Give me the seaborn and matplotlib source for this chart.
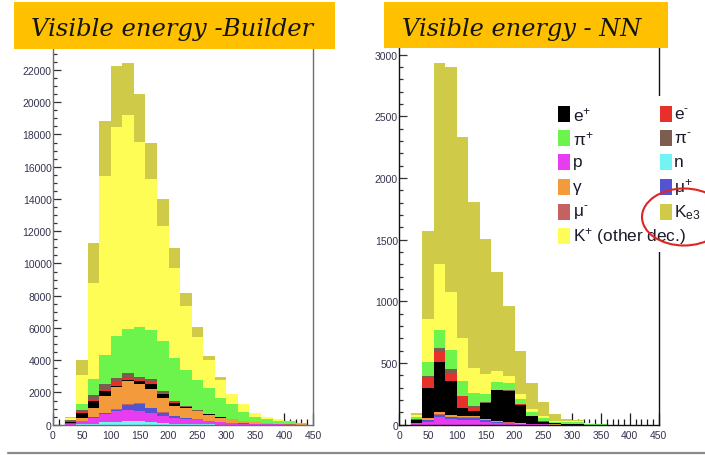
import numpy as np
import pandas as pd
import matplotlib
matplotlib.use("Agg")
import matplotlib.pyplot as plt
from matplotlib.patches import Rectangle, Ellipse
from matplotlib.lines import Line2D
from matplotlib.ticker import MultipleLocator, StrMethodFormatter
import seaborn as sns

# ---------------------------------------------------------------- data
# visible energy binning (20-unit bins from 20 to 440)
bin_edges = list(range(20, 441, 20))

# stacking order, top of the stack first
species = ["Ke3", "K+", "pi+", "pi-", "e-", "e+", "gamma", "mu-", "mu+", "p", "n"]

# Builder reconstruction: counts per bin for each particle type
builder_n     = [10, 30, 60, 140, 170, 200, 200, 180, 100, 60, 40, 30, 20, 10, 10, 5, 5, 3, 2, 1, 1]
builder_p     = [60, 180, 350, 500, 700, 700, 670, 530, 450, 350, 300, 250, 200, 150, 100, 60, 40, 25, 15, 10, 5]
builder_mup   = [10, 20, 40, 60, 40, 330, 410, 310, 200, 100, 50, 30, 20, 20, 10, 10, 5, 3, 2, 1, 0]
builder_mum   = [10, 20, 30, 30, 40, 40, 40, 30, 30, 30, 20, 20, 10, 10, 5, 5, 3, 2, 1, 1, 0]
builder_gamma = [40, 150, 550, 1030, 1370, 1460, 1200, 1150, 850, 600, 650, 520, 380, 250, 200, 150, 100, 60, 40, 20, 10]
builder_ep    = [60, 300, 470, 350, 100, 60, 200, 350, 300, 200, 30, 20, 10, 10, 5, 5, 3, 2, 1, 1, 0]
builder_em    = [50, 60, 100, 100, 200, 100, 50, 100, 50, 50, 20, 10, 10, 5, 5, 5, 3, 2, 1, 1, 0]
builder_pim   = [30, 150, 250, 340, 300, 290, 170, 200, 100, 100, 70, 30, 20, 15, 10, 10, 5, 3, 3, 1, 1]
builder_pip   = [50, 350, 1000, 1800, 2600, 2750, 3100, 3000, 3100, 2650, 2210, 1880, 1580, 1180, 930, 550, 340, 250, 180, 110, 60]
builder_kp    = [100, 1800, 5940, 11060, 12970, 13300, 11520, 9400, 7120, 5600, 3950, 2670, 1760, 1140, 620, 470, 230, 140, 90, 50, 20]
builder_ke3   = [50, 970, 2500, 3420, 3780, 3210, 2950, 2200, 1700, 1200, 830, 580, 270, 150, 30, 20, 15, 10, 5, 3, 2]

# NN reconstruction: counts per bin for each particle type
nn_n     = [0, 0, 0, 0, 0, 0, 0, 0, 0, 0, 0, 0, 0, 0, 0, 0, 0, 0, 0, 0, 0]
nn_p     = [10, 25, 65, 50, 40, 40, 25, 15, 12, 5, 3, 2, 1, 1, 1, 0, 0, 0, 0, 0, 0]
nn_mup   = [0, 10, 15, 10, 15, 15, 10, 8, 5, 2, 1, 0, 0, 0, 0, 0, 0, 0, 0, 0, 0]
nn_mum   = [0, 5, 5, 5, 5, 5, 3, 2, 2, 1, 1, 0, 0, 0, 0, 0, 0, 0, 0, 0, 0]
nn_gamma = [5, 15, 20, 15, 10, 14, 12, 8, 6, 5, 3, 2, 1, 0, 0, 0, 0, 0, 0, 0, 0]
nn_ep    = [20, 245, 405, 275, 65, 40, 125, 245, 250, 150, 60, 20, 8, 4, 3, 1, 0, 0, 0, 0, 0]
nn_em    = [10, 80, 80, 65, 95, 25, 3, 2, 2, 2, 2, 1, 0, 0, 0, 0, 0, 0, 0, 0, 0]
nn_pim   = [5, 15, 30, 30, 5, 10, 2, 3, 3, 2, 2, 1, 0, 0, 0, 0, 0, 0, 0, 0, 0]
nn_pip   = [10, 110, 150, 155, 122, 110, 70, 67, 60, 45, 30, 30, 15, 15, 15, 8, 2, 0, 0, 0, 0]
nn_kp    = [15, 355, 535, 470, 343, 200, 160, 85, 55, 33, 22, 15, 8, 7, 7, 3, 1, 0, 0, 0, 0]
nn_ke3   = [20, 710, 1630, 1825, 1630, 1345, 1095, 805, 565, 350, 215, 111, 54, 20, 15, 0, 0, 0, 0, 0, 0]

palette = {
    "e+": "#000000", "e-": "#e8302a",
    "pi+": "#6cf44c", "pi-": "#7c5e50",
    "p": "#e83cf0", "n": "#72f4f4",
    "gamma": "#f29a3c", "mu+": "#5454d2",
    "mu-": "#c46262", "Ke3": "#cfca48",
    "K+": "#fdfd55",
}

# legend layout: (key, label) per column
legend_left = [("e+", "e$^{+}$"), ("pi+", "π$^{+}$"), ("p", "p"),
               ("gamma", "γ"), ("mu-", "μ$^{\\text{-}}$"), ("K+", "K$^{+}$ (other dec.)")]
legend_right = [("e-", "e$^{\\text{-}}$"), ("pi-", "π$^{\\text{-}}$"), ("n", "n"),
                ("mu+", "μ$^{+}$"), ("Ke3", "K$_{\\mathrm{e3}}$")]


def long_frame(series):
    centers = [(a + b) / 2 for a, b in zip(bin_edges[:-1], bin_edges[1:])]
    rows = []
    for name, counts in series.items():
        for c, v in zip(centers, counts):
            rows.append((c, name, v))
    return pd.DataFrame(rows, columns=["energy", "species", "count"])


builder_df = long_frame({
    "n": builder_n, "p": builder_p, "mu+": builder_mup, "mu-": builder_mum,
    "gamma": builder_gamma, "e+": builder_ep, "e-": builder_em,
    "pi-": builder_pim, "pi+": builder_pip, "K+": builder_kp, "Ke3": builder_ke3,
})
nn_df = long_frame({
    "n": nn_n, "p": nn_p, "mu+": nn_mup, "mu-": nn_mum,
    "gamma": nn_gamma, "e+": nn_ep, "e-": nn_em,
    "pi-": nn_pim, "pi+": nn_pip, "K+": nn_kp, "Ke3": nn_ke3,
})

# ---------------------------------------------------------------- figure
sns.set_theme(style="white")
plt.rcParams["font.family"] = ["Liberation Sans", "DejaVu Sans"]
plt.rcParams["mathtext.fontset"] = "custom"
plt.rcParams["mathtext.rm"] = "Liberation Sans"
plt.rcParams["mathtext.it"] = "Liberation Sans:italic"

W, H = 705, 456
fig = plt.figure(figsize=(W / 100, H / 100), dpi=100)
fig.patch.set_facecolor("white")


def fx(px):
    return px / W


def fy(py):
    return 1 - py / H


y0_px, ytop_px = 425.7, 48.0
ax_l = fig.add_axes([fx(53), fy(y0_px), (313 - 53) / W, (y0_px - ytop_px) / H])
ax_r = fig.add_axes([fx(399.3), fy(y0_px), (658.6 - 399.3) / W, (y0_px - ytop_px) / H])

label_color = "#34344e"
for ax, df, ytop, ymaj, ymin, spine_col in [
    (ax_l, builder_df, 23426, 2000, 500, "#6e6e6e"),
    (ax_r, nn_df, 3062, 500, 100, "#111111"),
]:
    sns.histplot(data=df, x="energy", weights="count", hue="species",
                 hue_order=species, palette=palette, multiple="stack",
                 bins=bin_edges, element="bars", fill=True, linewidth=0,
                 alpha=1, legend=False, ax=ax)
    ax.set_xlim(0, 450)
    ax.set_ylim(0, ytop)
    ax.set_xlabel("")
    ax.set_ylabel("")
    ax.xaxis.set_major_locator(MultipleLocator(50))
    ax.xaxis.set_minor_locator(MultipleLocator(10))
    ax.yaxis.set_major_locator(MultipleLocator(ymaj))
    ax.yaxis.set_minor_locator(MultipleLocator(ymin))
    ax.yaxis.set_major_formatter(StrMethodFormatter("{x:.0f}"))
    ax.tick_params(axis="x", which="major", direction="in", length=8.5, width=0.9,
                   color="#1a1a1a", labelsize=7.5, labelcolor=label_color, pad=3.5,
                   bottom=True, top=False)
    ax.tick_params(axis="x", which="minor", direction="in", length=4, width=0.9,
                   color="#1a1a1a", bottom=True, top=False)
    ax.tick_params(axis="y", which="major", direction="in", length=5.5, width=0.9,
                   color="#333333", labelsize=7.5, labelcolor=label_color, pad=1,
                   left=True, right=False)
    ax.tick_params(axis="y", which="minor", direction="in", length=3.2, width=0.9,
                   color="#333333", left=True, right=False)
    for side in ["left", "bottom", "right"]:
        ax.spines[side].set_visible(True)
        ax.spines[side].set_color(spine_col)
        ax.spines[side].set_linewidth(1.0)
    ax.spines["top"].set_visible(False)
    ax.set_facecolor("white")
    ax.grid(False)

# title boxes
title_col = "#ffc000"
for (x0, x1, y0, y1) in [(14, 335, 3, 50), (384, 668, 3, 49)]:
    fig.patches.append(Rectangle((fx(x0), fy(y1)), (x1 - x0) / W, (y1 - y0) / H,
                                 transform=fig.transFigure, facecolor=title_col,
                                 edgecolor="none", zorder=5))

renderer = fig.canvas.get_renderer()
for text, xl, xr, base in [("Visible energy -Builder", 31, 312, 36),
                           ("Visible energy - NN", 402, 641, 36)]:
    t = fig.text(fx(xl), fy(base), text, fontfamily="DejaVu Serif",
                 fontstyle="italic", fontsize=20, color="#141414",
                 ha="left", va="baseline", zorder=6)
    w = t.get_window_extent(renderer).width
    t.set_fontsize(20 * (xr - xl) / w)

# legend (white panel over the right frame)
fig.patches.append(Rectangle((fx(548), fy(253)), (705 - 548) / W, (253 - 97) / H,
                             transform=fig.transFigure, facecolor="white",
                             edgecolor="none", zorder=5))
row_y = [115, 139, 163, 188, 213, 237]
for col, (mx, tx) in zip([legend_left, legend_right], [(558, 573), (660, 674)]):
    for (key, lab), ry in zip(col, row_y):
        fig.patches.append(Rectangle((fx(mx), fy(ry + 8)), 12 / W, 16 / H,
                                     transform=fig.transFigure,
                                     facecolor=palette[key], edgecolor="none",
                                     zorder=6))
        fig.text(fx(tx), fy(ry), lab, fontsize=12.4, color="#1a1a2a",
                 ha="left", va="center", zorder=7)

# hand-drawn emphasis ring around the Ke3 entry
fig.patches.append(Ellipse((fx(684), fy(218)), 84 / W, 57 / H,
                           transform=fig.transFigure, fill=False,
                           edgecolor="#e02424", linewidth=1.5, zorder=8))

# slide separator line
fig.lines.append(Line2D([fx(8), fx(705)], [fy(454), fy(454)],
                        transform=fig.transFigure, color="#8a8a8a",
                        linewidth=1.6, zorder=5))

fig.savefig("out.png", dpi=100, facecolor="white")
